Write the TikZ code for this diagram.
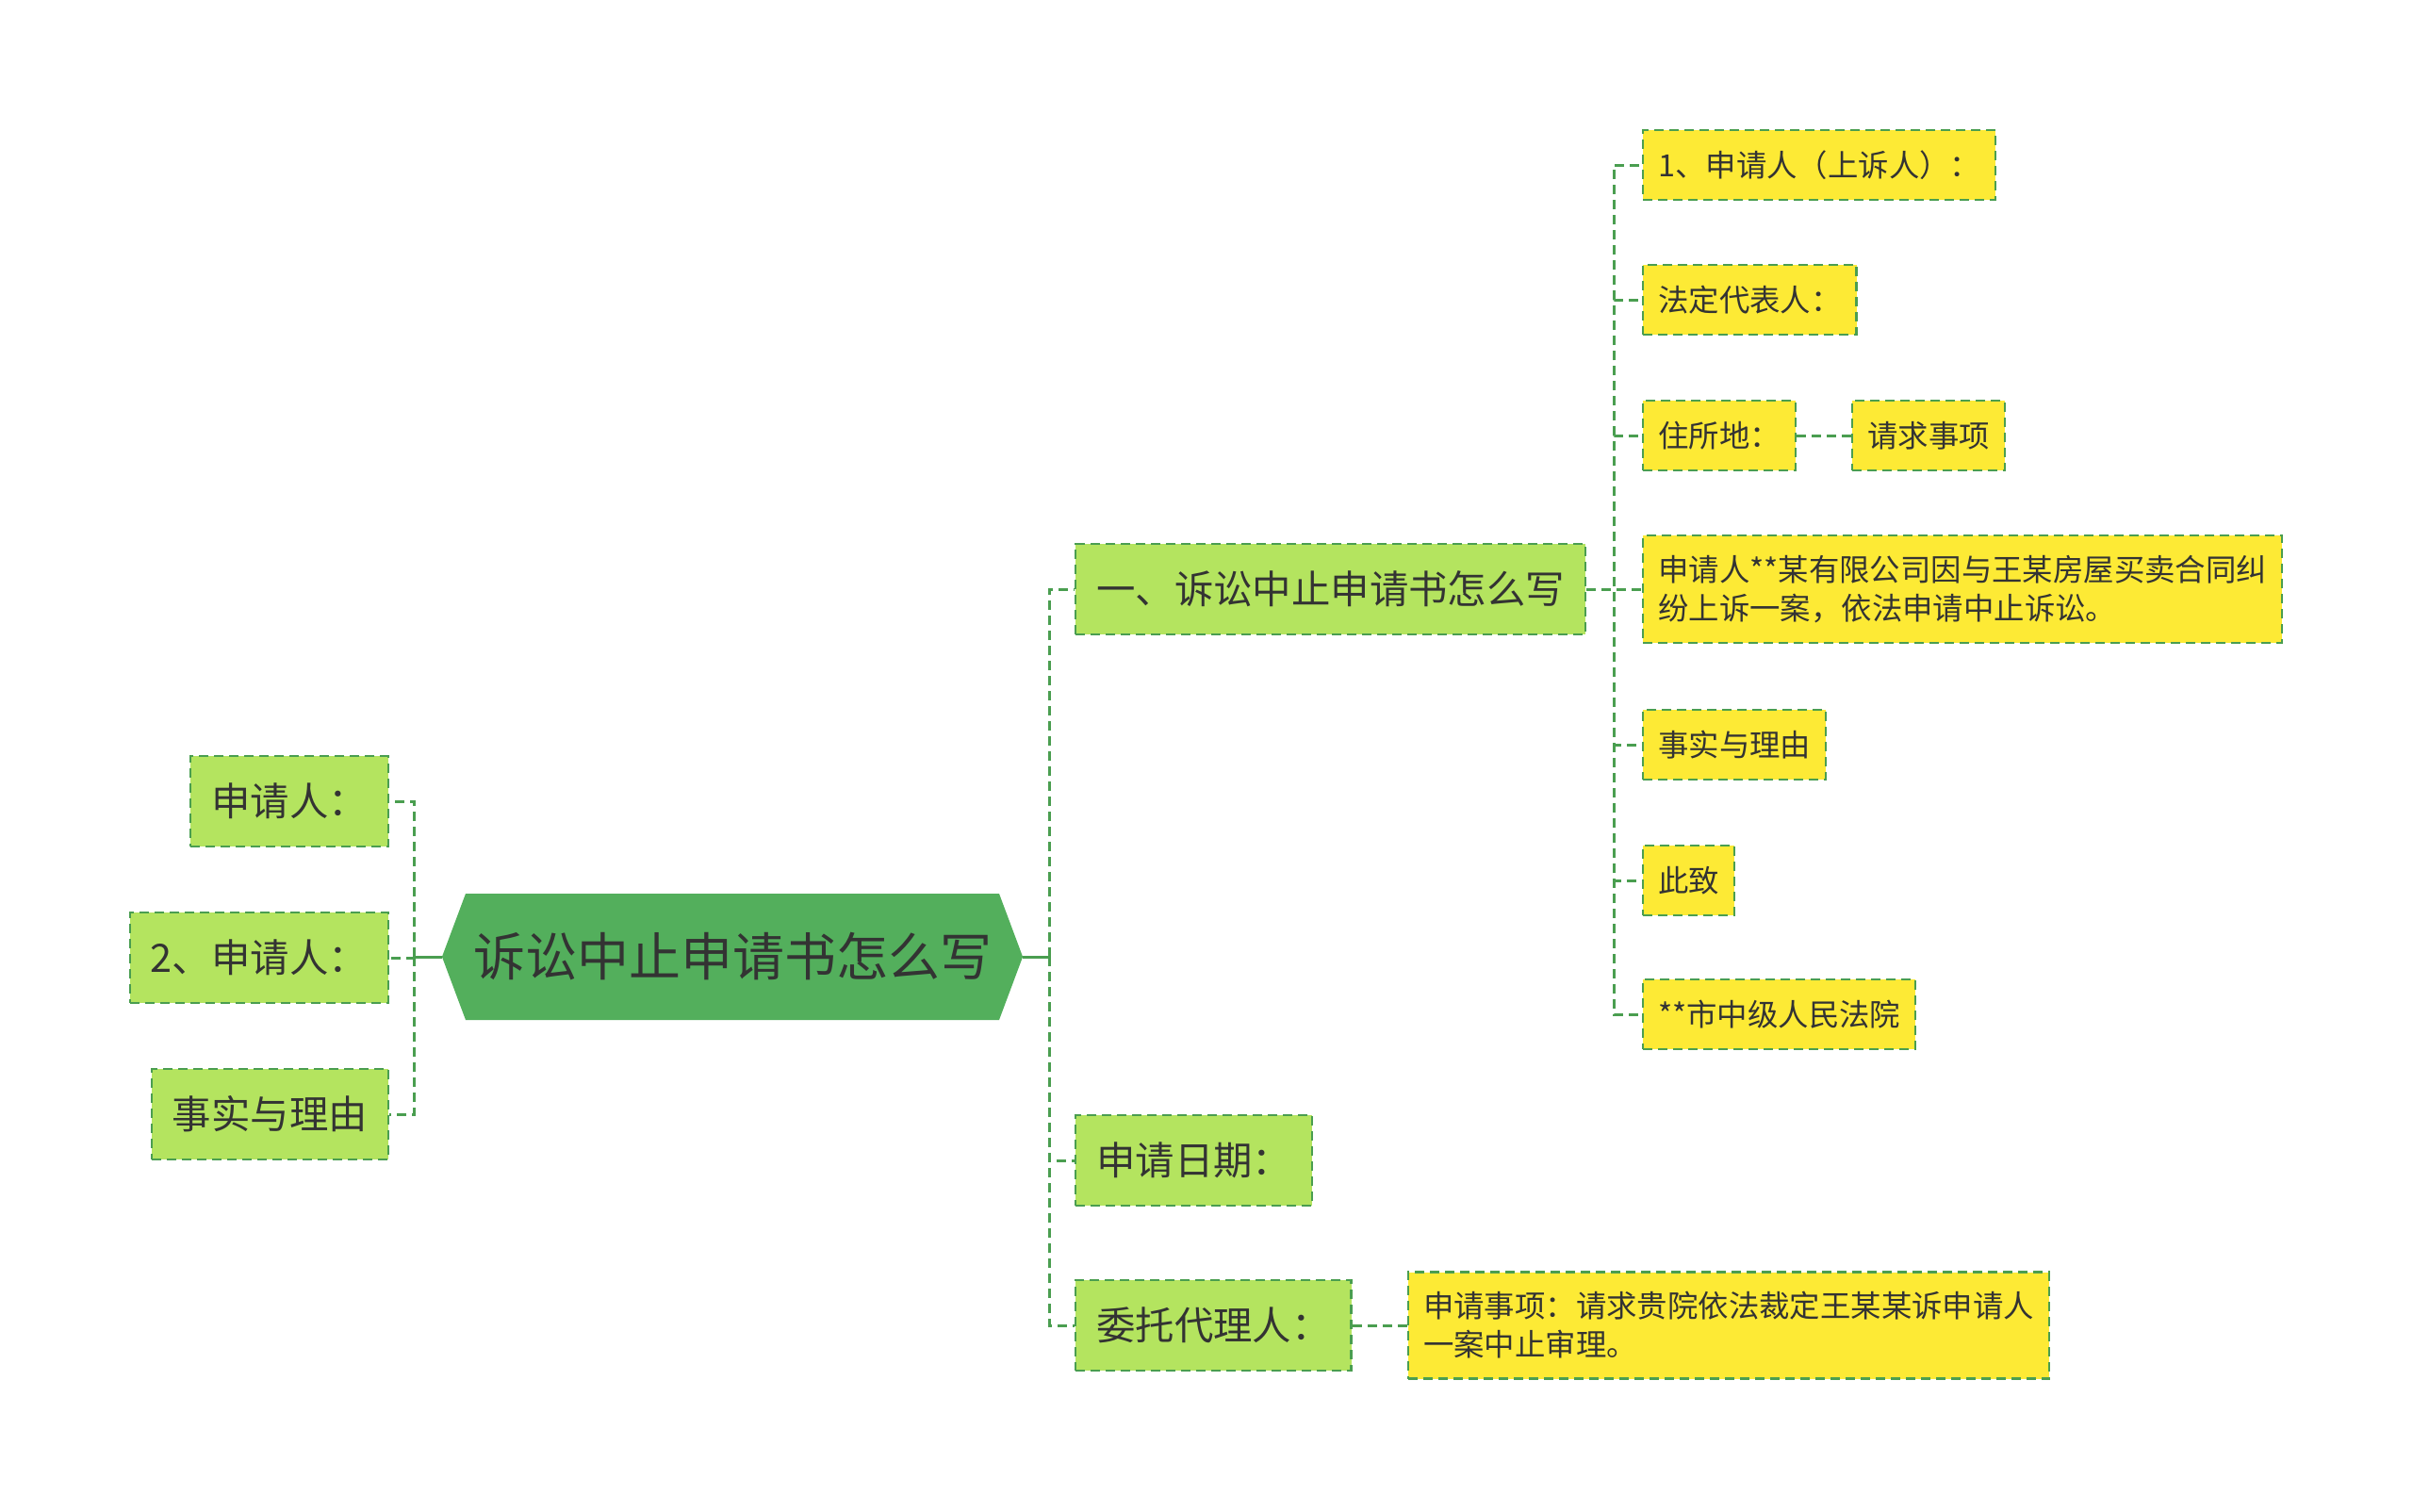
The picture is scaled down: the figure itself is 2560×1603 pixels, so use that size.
\documentclass[tikz,border=0pt]{standalone}
\usepackage{fontspec}
\setmainfont{Noto Sans CJK SC}
\usetikzlibrary{positioning,shapes.symbols}
\definecolor{rootgreen}{HTML}{53AF5C}
\definecolor{leafgreen}{HTML}{B4E45F}
\definecolor{leafyellow}{HTML}{FDEA35}
\definecolor{edgegreen}{HTML}{4A9E50}
\definecolor{inkgray}{HTML}{333333}

\begin{document}
\begin{tikzpicture}[
  x=0.5pt, y=-0.5pt,
  rootbox/.style={signal, signal to=east and west, signal pointer angle=139,
    fill=rootgreen, text=inkgray, inner xsep=4pt, minimum height=67pt,
    font=\fontsize{27.5}{30}\selectfont},
  mainbox/.style={draw=edgegreen, line width=1.2pt, dash pattern=on 5pt off 3pt,
    fill=leafgreen, text=inkgray, inner xsep=11pt, minimum height=48pt,
    font=\fontsize{20.7}{24}\selectfont},
  leafbox/.style={draw=edgegreen, line width=1.2pt, dash pattern=on 5pt off 3pt,
    fill=leafyellow, text=inkgray, inner xsep=8pt, inner ysep=10.5pt, minimum height=37pt,
    align=left, font=\fontsize{16.2}{20.5}\selectfont},
  link/.style={draw=edgegreen, line width=1.5pt, dash pattern=on 5pt off 3pt},
  trunk/.style={draw=edgegreen, line width=1.5pt}
]
\fill[white] (0,0) rectangle (2560,1603);
\useasboundingbox (0,0) rectangle (2560,1603);

% Root
\node[rootbox] (root) at (777,1015) {诉讼中止申请书怎么写};

% Left branch
\node[mainbox, anchor=east] (lA) at (413,850) {申请人：};
\node[mainbox, anchor=east] (lB) at (413,1016) {2、申请人：};
\node[mainbox, anchor=east] (lC) at (413,1182) {事实与理由};

% Right branch
\node[mainbox, anchor=west] (m1) at (1140,625) {一、诉讼中止申请书怎么写};
\node[mainbox, anchor=west] (m2) at (1140,1231) {申请日期：};
\node[mainbox, anchor=west] (m3) at (1140,1406) {委托代理人：};

% Leaves
\node[leafbox, anchor=west] (s1) at (1742,175) {1、申请人（上诉人）：};
\node[leafbox, anchor=west] (s2) at (1742,318) {法定代表人：};
\node[leafbox, anchor=west] (s3) at (1742,462) {住所地：};
\node[leafbox, right=29pt of s3] (s3b) {请求事项};
\node[leafbox, anchor=west] (s4) at (1742,625) {申请人**某有限公司因与王某房屋买卖合同纠\\纷上诉一案，依法申请中止诉讼。};
\node[leafbox, anchor=west] (s5) at (1742,790) {事实与理由};
\node[leafbox, anchor=west] (s6) at (1742,934) {此致};
\node[leafbox, anchor=west] (s7) at (1742,1076) {**市中级人民法院};
\node[leafbox, right=29pt of m3] (m3b) {申请事项：请求贵院依法裁定王某某诉申请人\\一案中止审理。};

% Pointers
\coordinate (lbus) at ([xshift=-14.5pt]root.west);
\coordinate (rbus) at ([xshift=14pt]root.east);
\draw[trunk] (root.west) -- (lbus);
\draw[trunk] (root.east) -- (rbus);
\foreach \n in {lA,lB,lC} \draw[link] (lbus) |- (\n.east);
\foreach \n in {m1,m2,m3} \draw[link] (rbus) |- (\n.west);
\foreach \n in {s1,s2,s3,s4,s5,s6,s7} \draw[link] (m1.east) -- ++(29,0) |- (\n.west);
\draw[link] (s3) -- (s3b);
\draw[link] (m3) -- (m3b);

\end{tikzpicture}
\end{document}
